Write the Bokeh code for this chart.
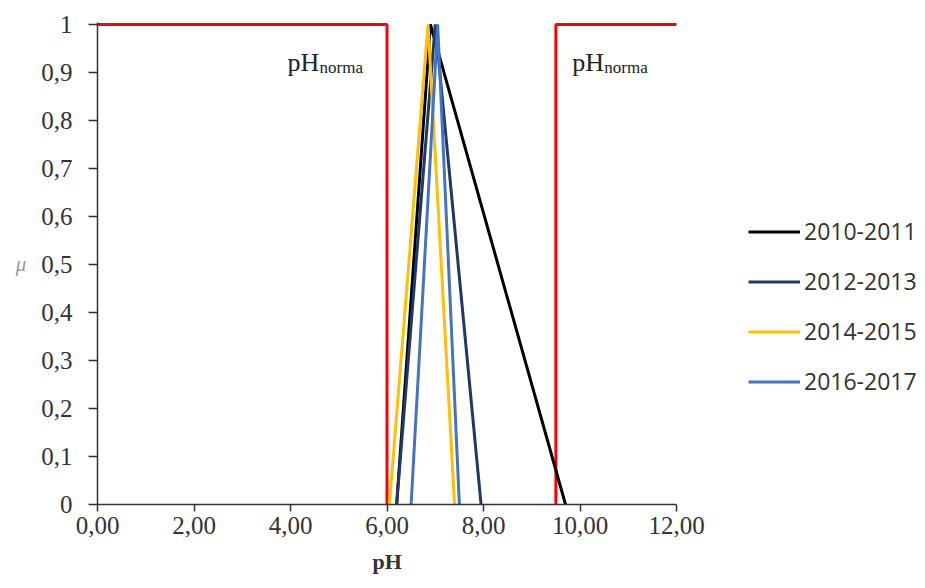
from bokeh.plotting import figure
from bokeh.models import (Range1d, FixedTicker, CustomJSTickFormatter, Legend,
                          LegendItem, Label, Title)
from bokeh.embed import file_html
from bokeh.resources import INLINE

# Triangular membership functions of pH: (left foot, peak, right foot)
seasons = ["2010-2011", "2012-2013", "2014-2015", "2016-2017"]
ph_left = [6.20, 6.20, 6.05, 6.50]
ph_peak = [6.90, 7.00, 6.85, 7.05]
ph_right = [9.70, 7.95, 7.40, 7.50]
mu_foot = 0.0
mu_top = 1.0

# Normative pH interval bounds
ph_norm_low = 6.0
ph_norm_high = 9.5
ph_min = 0.0
ph_max = 12.0

x_ticks = [0, 2, 4, 6, 8, 10, 12]
x_tick_labels = ["0,00", "2,00", "4,00", "6,00", "8,00", "10,00", "12,00"]
y_ticks = [0, 0.1, 0.2, 0.3, 0.4, 0.5, 0.6, 0.7, 0.8, 0.9, 1]
y_tick_labels = ["0", "0,1", "0,2", "0,3", "0,4", "0,5", "0,6", "0,7", "0,8", "0,9", "1"]

colors = ["#000000", "#1F3864", "#FFC000", "#4472C4"]
serif = "Liberation Serif"

# The frame runs to the right edge so the legend can sit inside it;
# the x axis itself is bounded to the 0..12 pH scale.
frame_px = 925 - 97
axis_px = 579
px_per_unit = axis_px / (ph_max - ph_min)
view_end = ph_min + frame_px / px_per_unit

p = figure(width=925, height=588, output_backend="svg", toolbar_location=None,
           x_range=Range1d(ph_min, view_end), y_range=Range1d(0, 1.004),
           min_border_left=97, min_border_right=0, min_border_top=22,
           min_border_bottom=84)
p.outline_line_color = None
p.xgrid.visible = False
p.ygrid.visible = False
p.background_fill_color = "white"
p.border_fill_color = "white"

# Red step lines outlining the pH norm
p.line([ph_min, ph_norm_low, ph_norm_low], [mu_top, mu_top, mu_foot],
       line_color="#FF0000", line_width=3)
p.line([ph_norm_high, ph_norm_high, ph_max], [mu_foot, mu_top, mu_top],
       line_color="#FF0000", line_width=3)

items = []
for name, a, b, c, col in zip(seasons, ph_left, ph_peak, ph_right, colors):
    r = p.line([a, b, c], [mu_foot, mu_top, mu_foot], line_color=col, line_width=3)
    items.append(LegendItem(label=name, renderers=[r]))

legend = Legend(items=items, location=(651, 107), padding=0, margin=0,
                spacing=18, glyph_width=52, glyph_height=31, label_height=31,
                label_standoff=4, label_text_font="Open Sans",
                label_text_font_size="23px", label_text_color="#333333",
                border_line_alpha=0, background_fill_alpha=0)
p.add_layout(legend)

fmt_code = """
let best = 0;
for (let i = 0; i < tvals.length; i++) {
  if (Math.abs(tvals[i] - tick) < Math.abs(tvals[best] - tick)) best = i;
}
return tlabels[best];
"""

xa = p.xaxis[0]
xa.bounds = (ph_min, ph_max)
xa.ticker = FixedTicker(ticks=x_ticks)
xa.formatter = CustomJSTickFormatter(args=dict(tvals=x_ticks, tlabels=x_tick_labels), code=fmt_code)
xa.major_label_text_font = serif
xa.major_label_text_font_size = "25px"
xa.major_label_text_color = "#333333"
xa.major_label_standoff = 5
xa.major_tick_out = 7
xa.major_tick_in = 0
xa.minor_tick_out = 0
xa.minor_tick_in = 0
xa.axis_line_color = "#333333"
xa.axis_line_width = 1.5
xa.major_tick_line_color = "#333333"
xa.major_tick_line_width = 1.5

# x axis title, centred under the bounded 0..12 axis (about 29px wide)
p.add_layout(Title(text="pH", align="left", offset=axis_px / 2 - 14.5,
                   text_font=serif, text_font_style="bold",
                   text_font_size="22px", text_color="#333333",
                   standoff=20), "below")

ya = p.yaxis[0]
ya.ticker = FixedTicker(ticks=y_ticks)
ya.formatter = CustomJSTickFormatter(args=dict(tvals=y_ticks, tlabels=y_tick_labels), code=fmt_code)
ya.axis_label = "μ"
ya.axis_label_orientation = "horizontal"
ya.axis_label_text_font = serif
ya.axis_label_text_font_style = "italic"
ya.axis_label_text_font_size = "21px"
ya.axis_label_text_color = "#9a9a9a"
ya.axis_label_standoff = 12
ya.major_label_orientation = "horizontal"
ya.major_label_text_font = serif
ya.major_label_text_font_size = "25px"
ya.major_label_text_color = "#333333"
ya.major_label_standoff = 16
ya.major_tick_out = 9
ya.major_tick_in = 0
ya.minor_tick_out = 0
ya.minor_tick_in = 0
ya.axis_line_color = "#333333"
ya.axis_line_width = 1.5
ya.major_tick_line_color = "#333333"
ya.major_tick_line_width = 1.5

# "pH_norma" captions beside each boundary
for x0 in (3.94, 9.84):
    p.add_layout(Label(x=x0, y=0.921, text="pH", text_font=serif,
                       text_font_size="26px", text_color="#222222",
                       text_baseline="alphabetic"))
    p.add_layout(Label(x=x0, y=0.921, x_offset=32, y_offset=-5, text="norma",
                       text_font=serif, text_font_size="17px",
                       text_color="#222222", text_baseline="alphabetic"))

open("out.html", "w").write(file_html(p, INLINE))
